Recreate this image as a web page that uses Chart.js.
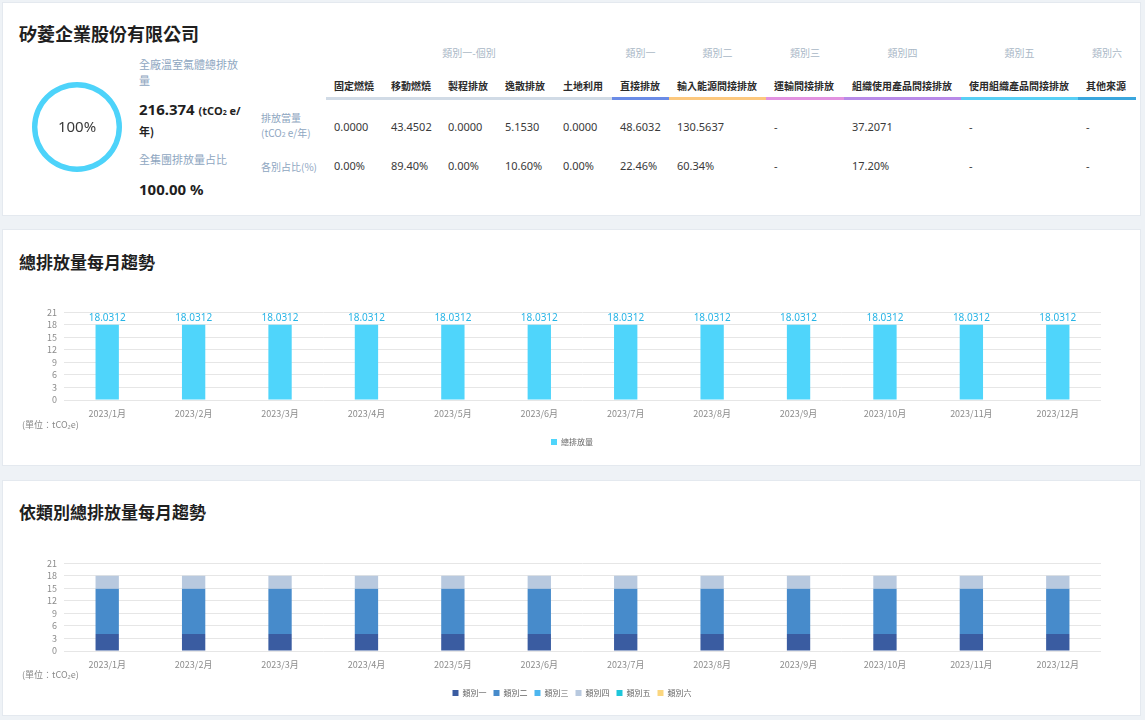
<!DOCTYPE html>
<html>
<head>
<meta charset="utf-8">
<script src="https://cdn.jsdelivr.net/npm/chart.js@4.4.1/dist/chart.umd.min.js"></script>
<style>
  html,body{margin:0;padding:0;}
  body{width:1145px;height:720px;background:#eef2f6;position:relative;overflow:hidden;
       font-family:"Noto Sans CJK TC","Noto Sans",sans-serif;color:#333;}
  .card{position:absolute;left:2px;width:1139px;background:#fff;border:1px solid #e4e9ef;box-sizing:border-box;}
  .abs{position:absolute;white-space:nowrap;}
  .title{font-weight:700;font-size:17px;color:#1f1f1f;}
  .lbl{color:#8ea6bf;font-size:11px;}
  .grp{color:#a9b7c6;font-size:10px;transform:translateX(-50%);}
  .hdr{font-weight:700;font-size:10px;color:#2b2b2b;}
  .val{font-size:11px;color:#3a3a3a;font-family:"Noto Sans","Noto Sans CJK TC",sans-serif;}
  .uline{position:absolute;height:3px;top:97px;}
  .unit{font-size:9px;color:#8a8a8a;}
</style>
</head>
<body>
<div class="card" style="top:2px;height:214px;"></div>
<div class="card" style="top:229px;height:237px;"></div>
<div class="card" style="top:480px;height:236px;"></div>

<div class="abs title" style="left:19px;top:20px;font-size:18px;">矽菱企業股份有限公司</div>
<div class="abs" style="left:32px;top:82px;width:90px;height:90px;"><canvas id="donut" width="90" height="90"></canvas></div>
<div class="abs" style="left:47px;top:116px;width:60px;text-align:center;font-size:15px;color:#3a3a3a;font-family:'Noto Sans',sans-serif;">100%</div>

<div class="abs lbl" style="left:139px;top:56px;">全廠溫室氣體總排放</div>
<div class="abs lbl" style="left:139px;top:72px;">量</div>
<div class="abs" style="left:139px;top:99px;font-weight:700;font-size:15px;color:#1f1f1f;font-family:'Noto Sans','Noto Sans CJK TC',sans-serif;">216.374 <span style="font-size:11px;">(tCO<span style="font-size:7px;">2</span> e/</span></div>
<div class="abs" style="left:139px;top:123px;font-weight:700;font-size:11px;color:#1f1f1f;">年)</div>
<div class="abs lbl" style="left:139px;top:151px;">全集團排放量占比</div>
<div class="abs" style="left:139px;top:179px;font-weight:700;font-size:15px;color:#1f1f1f;font-family:'Noto Sans',sans-serif;">100.00 %</div>

<div class="abs lbl" style="left:261px;top:110px;font-size:10px;">排放當量</div>
<div class="abs lbl" style="left:261px;top:125px;font-size:10px;">(tCO<span style="font-size:7px;">2</span> e/年)</div>
<div class="abs lbl" style="left:261px;top:159px;font-size:10px;">各別占比(%)</div>

<div id="table"></div>

<div class="abs title" style="left:19px;top:249px;">總排放量每月趨勢</div>
<div class="abs" style="left:0px;top:300px;width:1145px;height:156px;"><canvas id="c1"></canvas></div>
<div class="abs unit" style="left:22px;top:418px;">(單位：tCO₂e)</div>

<div class="abs title" style="left:19px;top:499px;">依類別總排放量每月趨勢</div>
<div class="abs" style="left:0px;top:551px;width:1145px;height:156px;"><canvas id="c2"></canvas></div>
<div class="abs unit" style="left:22px;top:668px;">(單位：tCO₂e)</div>

<script>
// ---------- data ----------
const columnNames = ["固定燃燒","移動燃燒","製程排放","逸散排放","土地利用","直接排放","輸入能源間接排放","運輸間接排放","組織使用產品間接排放","使用組織產品間接排放","其他來源"];
const emissionValues = ["0.0000","43.4502","0.0000","5.1530","0.0000","48.6032","130.5637","-","37.2071","-","-"];
const shareValues = ["0.00%","89.40%","0.00%","10.60%","0.00%","22.46%","60.34%","-","17.20%","-","-"];
const groupNames = ["類別一-個別","類別一","類別二","類別三","類別四","類別五","類別六"];
const groupSpans = [5,1,1,1,1,1,1];

const months = ["2023/1月","2023/2月","2023/3月","2023/4月","2023/5月","2023/6月","2023/7月","2023/8月","2023/9月","2023/10月","2023/11月","2023/12月"];
const monthlyTotal = [18.0312,18.0312,18.0312,18.0312,18.0312,18.0312,18.0312,18.0312,18.0312,18.0312,18.0312,18.0312];
const categoryNames = ["類別一","類別二","類別三","類別四","類別五","類別六"];
const cat1 = [4.0503,4.0503,4.0503,4.0503,4.0503,4.0503,4.0503,4.0503,4.0503,4.0503,4.0503,4.0503];
const cat2 = [10.8803,10.8803,10.8803,10.8803,10.8803,10.8803,10.8803,10.8803,10.8803,10.8803,10.8803,10.8803];
const cat3 = [0,0,0,0,0,0,0,0,0,0,0,0];
const cat4 = [3.1006,3.1006,3.1006,3.1006,3.1006,3.1006,3.1006,3.1006,3.1006,3.1006,3.1006,3.1006];
const cat5 = [0,0,0,0,0,0,0,0,0,0,0,0];
const cat6 = [0,0,0,0,0,0,0,0,0,0,0,0];
const yTicks = [0,3,6,9,12,15,18,21];

// ---------- table (layout) ----------
const colEdges = [326,383,440,497,555,612,669,766,844,961,1078,1136];
const groupColors = ["#d1dbe6","#6a8be6","#fcc87e","#e292e0","#b88ae8","#58cff5","#3aa6dd"];
(function(){
  const t = document.getElementById('table');
  let html = '';
  let ci = 0;
  groupNames.forEach((g,i)=>{
    const l = colEdges[ci], r = colEdges[ci+groupSpans[i]];
    html += `<div class="abs grp" style="left:${(l+r)/2}px;top:45px;">${g}</div>`;
    html += `<div class="uline" style="left:${l}px;width:${r-l}px;background:${groupColors[i]};"></div>`;
    ci += groupSpans[i];
  });
  columnNames.forEach((c,i)=>{
    const x = colEdges[i]+8;
    html += `<div class="abs hdr" style="left:${x}px;top:78px;">${c}</div>`;
    html += `<div class="abs val" style="left:${x}px;top:119px;">${emissionValues[i]}</div>`;
    html += `<div class="abs val" style="left:${x}px;top:158px;">${shareValues[i]}</div>`;
  });
  t.innerHTML = html;
})();

// ---------- charts ----------
new Chart(document.getElementById('donut'),{
  type:'doughnut',
  data:{labels:['全集團'],datasets:[{data:[100],backgroundColor:['#4dd3fa'],borderWidth:0}]},
  options:{responsive:false,cutout:'88%',animation:false,events:[],
    plugins:{legend:{display:false},tooltip:{enabled:false}}}
});

const tickFont = {family:"'Noto Sans CJK TC','Noto Sans',sans-serif",size:9};
function scalesCfg(stacked){
  return {
    x:{stacked:stacked,grid:{display:false,drawTicks:false},border:{display:false},
       ticks:{color:'#8c8c8c',font:tickFont,padding:8,maxRotation:0,autoSkip:false},
       afterFit:(s)=>{s.height=31;}},
    y:{stacked:stacked,min:0,max:21,
       grid:{color:'#e6e6e6',drawTicks:false},border:{display:false},
       afterBuildTicks:(s)=>{s.ticks=yTicks.map(v=>({value:v}));},
       ticks:{color:'#8c8c8c',font:tickFont,padding:7,autoSkip:false},
       afterFit:(s)=>{s.width=21;}}
  };
}
const legendCfg = {position:'bottom',labels:{boxWidth:6,boxHeight:6,font:{family:"'Noto Sans CJK TC',sans-serif",size:8},color:'#666',padding:7}};
const chartPadding = {left:43,right:44,top:12,bottom:0};

const valueLabels = {
  id:'valueLabels',
  afterDatasetsDraw(chart){
    const ctx = chart.ctx;
    const meta = chart.getDatasetMeta(0);
    ctx.save();
    ctx.fillStyle='#27b4e6';
    ctx.font="10px 'Noto Sans','Noto Sans CJK TC',sans-serif";
    ctx.textAlign='center';ctx.textBaseline='bottom';
    meta.data.forEach((bar,i)=>{
      ctx.fillText(chart.data.datasets[0].data[i].toFixed(4), bar.x, bar.y-2);
    });
    ctx.restore();
  }
};

new Chart(document.getElementById('c1'),{
  type:'bar',
  data:{labels:months,datasets:[{label:'總排放量',data:monthlyTotal,backgroundColor:'#4fd5fb',
        categoryPercentage:1,barPercentage:0.27}]},
  options:{responsive:true,maintainAspectRatio:false,animation:false,events:[],
    layout:{padding:chartPadding},
    scales:scalesCfg(false),
    plugins:{legend:legendCfg,tooltip:{enabled:false}}},
  plugins:[valueLabels]
});

const catColors = ['#3a5ca1','#478bcb','#4db6ef','#b8c9df','#1ec6da','#fbd67f'];
const catData = [cat1,cat2,cat3,cat4,cat5,cat6];
new Chart(document.getElementById('c2'),{
  type:'bar',
  data:{labels:months,datasets:categoryNames.map((n,i)=>({label:n,data:catData[i],backgroundColor:catColors[i],
        categoryPercentage:1,barPercentage:0.27}))},
  options:{responsive:true,maintainAspectRatio:false,animation:false,events:[],
    layout:{padding:chartPadding},
    scales:scalesCfg(true),
    plugins:{legend:legendCfg,tooltip:{enabled:false}}}
});
</script>
</body>
</html>
